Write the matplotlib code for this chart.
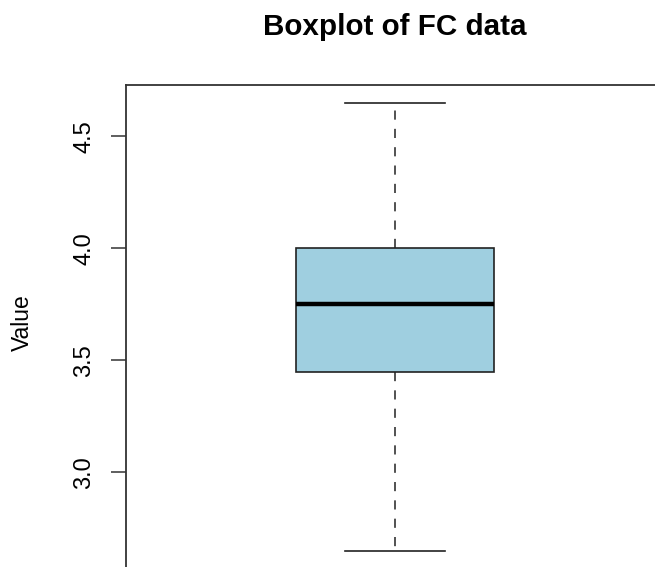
# boxplot of FC data, R-style base graphics look

import matplotlib
matplotlib.use('Agg')
import matplotlib.pyplot as plt

plt.rcParams['font.family'] = ['Liberation Sans', 'DejaVu Sans']

# five-number summary
whisker_low = 2.65
q1 = 3.45
median = 3.75
q3 = 4.00
whisker_high = 4.65

yticks = [3.0, 3.5, 4.0, 4.5]
yticklabels = ['3.0', '3.5', '4.0', '4.5']

stats = [{'whislo': whisker_low, 'q1': q1, 'med': median, 'q3': q3,
          'whishi': whisker_high, 'fliers': [], 'label': ''}]

fig = plt.figure(figsize=(6.55, 5.67), dpi=100)
# plot region runs off the right and bottom edge like the reference
ax = fig.add_axes([126/655, -1.5/567, 538/655, 483.5/567])

ax.bxp(stats, positions=[1], widths=0.369, capwidths=0.186,
       patch_artist=True, showfliers=False,
       boxprops=dict(facecolor='#9fcfe0', edgecolor='#222222', linewidth=1.2),
       medianprops=dict(color='black', linewidth=3.2, solid_capstyle='butt'),
       whiskerprops=dict(color='#222222', linewidth=1.1, linestyle=(0, (6, 6))),
       capprops=dict(color='#222222', linewidth=1.2))

ax.set_xlim(0.5, 1.5)
ax.set_ylim(2.57, 4.73)
ax.set_xticks([])
ax.set_yticks(yticks)
ax.set_yticklabels(yticklabels, rotation=90, va='center', fontsize=17)
ax.tick_params(axis='y', length=11, width=1.1, pad=11, color='#333333')
for s in ax.spines.values():
    s.set_linewidth(1.3)
    s.set_color('#333333')

fig.text(22/655, 1 - 323/567, 'Value', rotation=90, ha='center', va='center', fontsize=16.5)
fig.text(395/655, 1 - 35/567, 'Boxplot of FC data', ha='center', va='baseline',
         fontsize=21.3, fontweight='bold')

plt.savefig('out.png', dpi=100)
